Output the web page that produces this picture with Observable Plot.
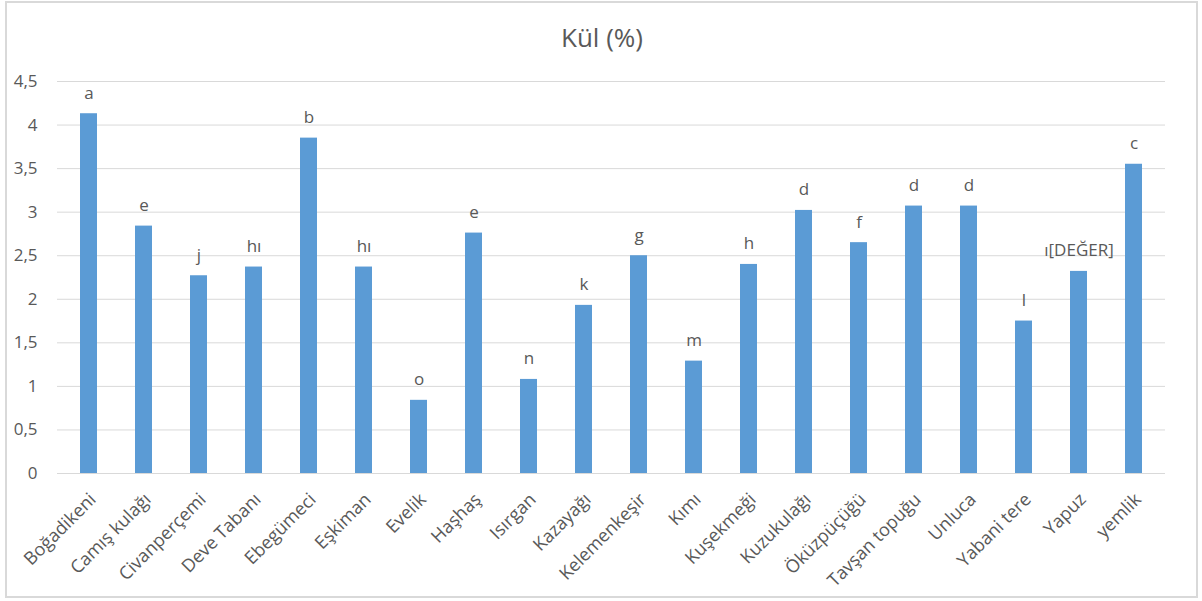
<!DOCTYPE html>
<html lang="tr">
<head>
<meta charset="utf-8">
<script src="https://cdn.jsdelivr.net/npm/d3@7"></script>
<script src="https://cdn.jsdelivr.net/npm/@observablehq/plot@0.6"></script>
<style>
  html, body { margin: 0; padding: 0; background: #fff; }
  #chart { position: relative; width: 1202px; height: 601px; overflow: hidden; font-family: "Open Sans", sans-serif; }
  #chart svg { position: absolute; left: 0; top: 0; }
  #title { position: absolute; left: 0; width: 1204px; top: 19px; text-align: center; font-size: 26px; color: #595959; line-height: 36px; }
  #frame { position: absolute; left: 5px; top: 1px; width: 1193px; height: 597px; box-sizing: border-box; border: 2px solid #d9d9d9; pointer-events: none; }
</style>
</head>
<body>
<div id="chart">
  <div id="title">Kül (%)</div>
  <div id="frame"></div>
</div>
<script>
// Bitki türleri
const species = [
  "Boğadikeni", "Camış kulağı", "Civanperçemi", "Deve Tabanı", "Ebegümeci",
  "Eşkiman", "Evelik", "Haşhaş", "Isırgan", "Kazayağı",
  "Kelemenkeşir", "Kımı", "Kuşekmeği", "Kuzukulağı", "Öküzpüçüğü",
  "Tavşan topuğu", "Unluca", "Yabani tere", "Yapuz", "yemlik"
];
// Kül oranı (%)
const ash = [
  4.13, 2.84, 2.27, 2.37, 3.85,
  2.37, 0.84, 2.76, 1.08, 1.93,
  2.50, 1.29, 2.40, 3.02, 2.65,
  3.07, 3.07, 1.75, 2.32, 3.55
];
// Gruplama harfleri
const groups = [
  "a", "e", "j", "hı", "b",
  "hı", "o", "e", "n", "k",
  "g", "m", "h", "d", "f",
  "d", "d", "l", "ı[DEĞER]", "c"
];
const yTicks = [0, 0.5, 1, 1.5, 2, 2.5, 3, 3.5, 4, 4.5];

const rows = species.map((name, i) => ({name, value: ash[i], group: groups[i]}));
const comma = d => String(d).replace(".", ",");
const ink = "#595959";

const svg = Plot.plot({
  width: 1202,
  height: 601,
  marginLeft: 57,
  marginRight: 37,
  marginTop: 81,
  marginBottom: 128,
  style: {background: "transparent", fontFamily: "Open Sans, sans-serif", fontSize: "17px", color: ink},
  x: {domain: species, paddingInner: 0.69, paddingOuter: 0.345, axis: null},
  y: {domain: [0, 4.5], axis: null},
  marks: [
    Plot.ruleY(yTicks, {stroke: "#d9d9d9", strokeWidth: 1}),
    Plot.barY(rows, {x: "name", y: "value", fill: "#5b9bd5"}),
    Plot.text(rows, {x: "name", y: "value", text: "group", lineAnchor: "bottom", dy: -15, fill: ink, fontSize: 17}),
    Plot.axisY({ticks: yTicks, tickFormat: comma, tickSize: 0, tickPadding: 20, fill: ink, fontSize: 17, label: null}),
    Plot.axisX({tickSize: 0, tickPadding: 23, tickRotate: -45, dx: 4, fill: ink, fontSize: 18, label: null})
  ]
});
document.getElementById("chart").insertBefore(svg, document.getElementById("frame"));
</script>
</body>
</html>
